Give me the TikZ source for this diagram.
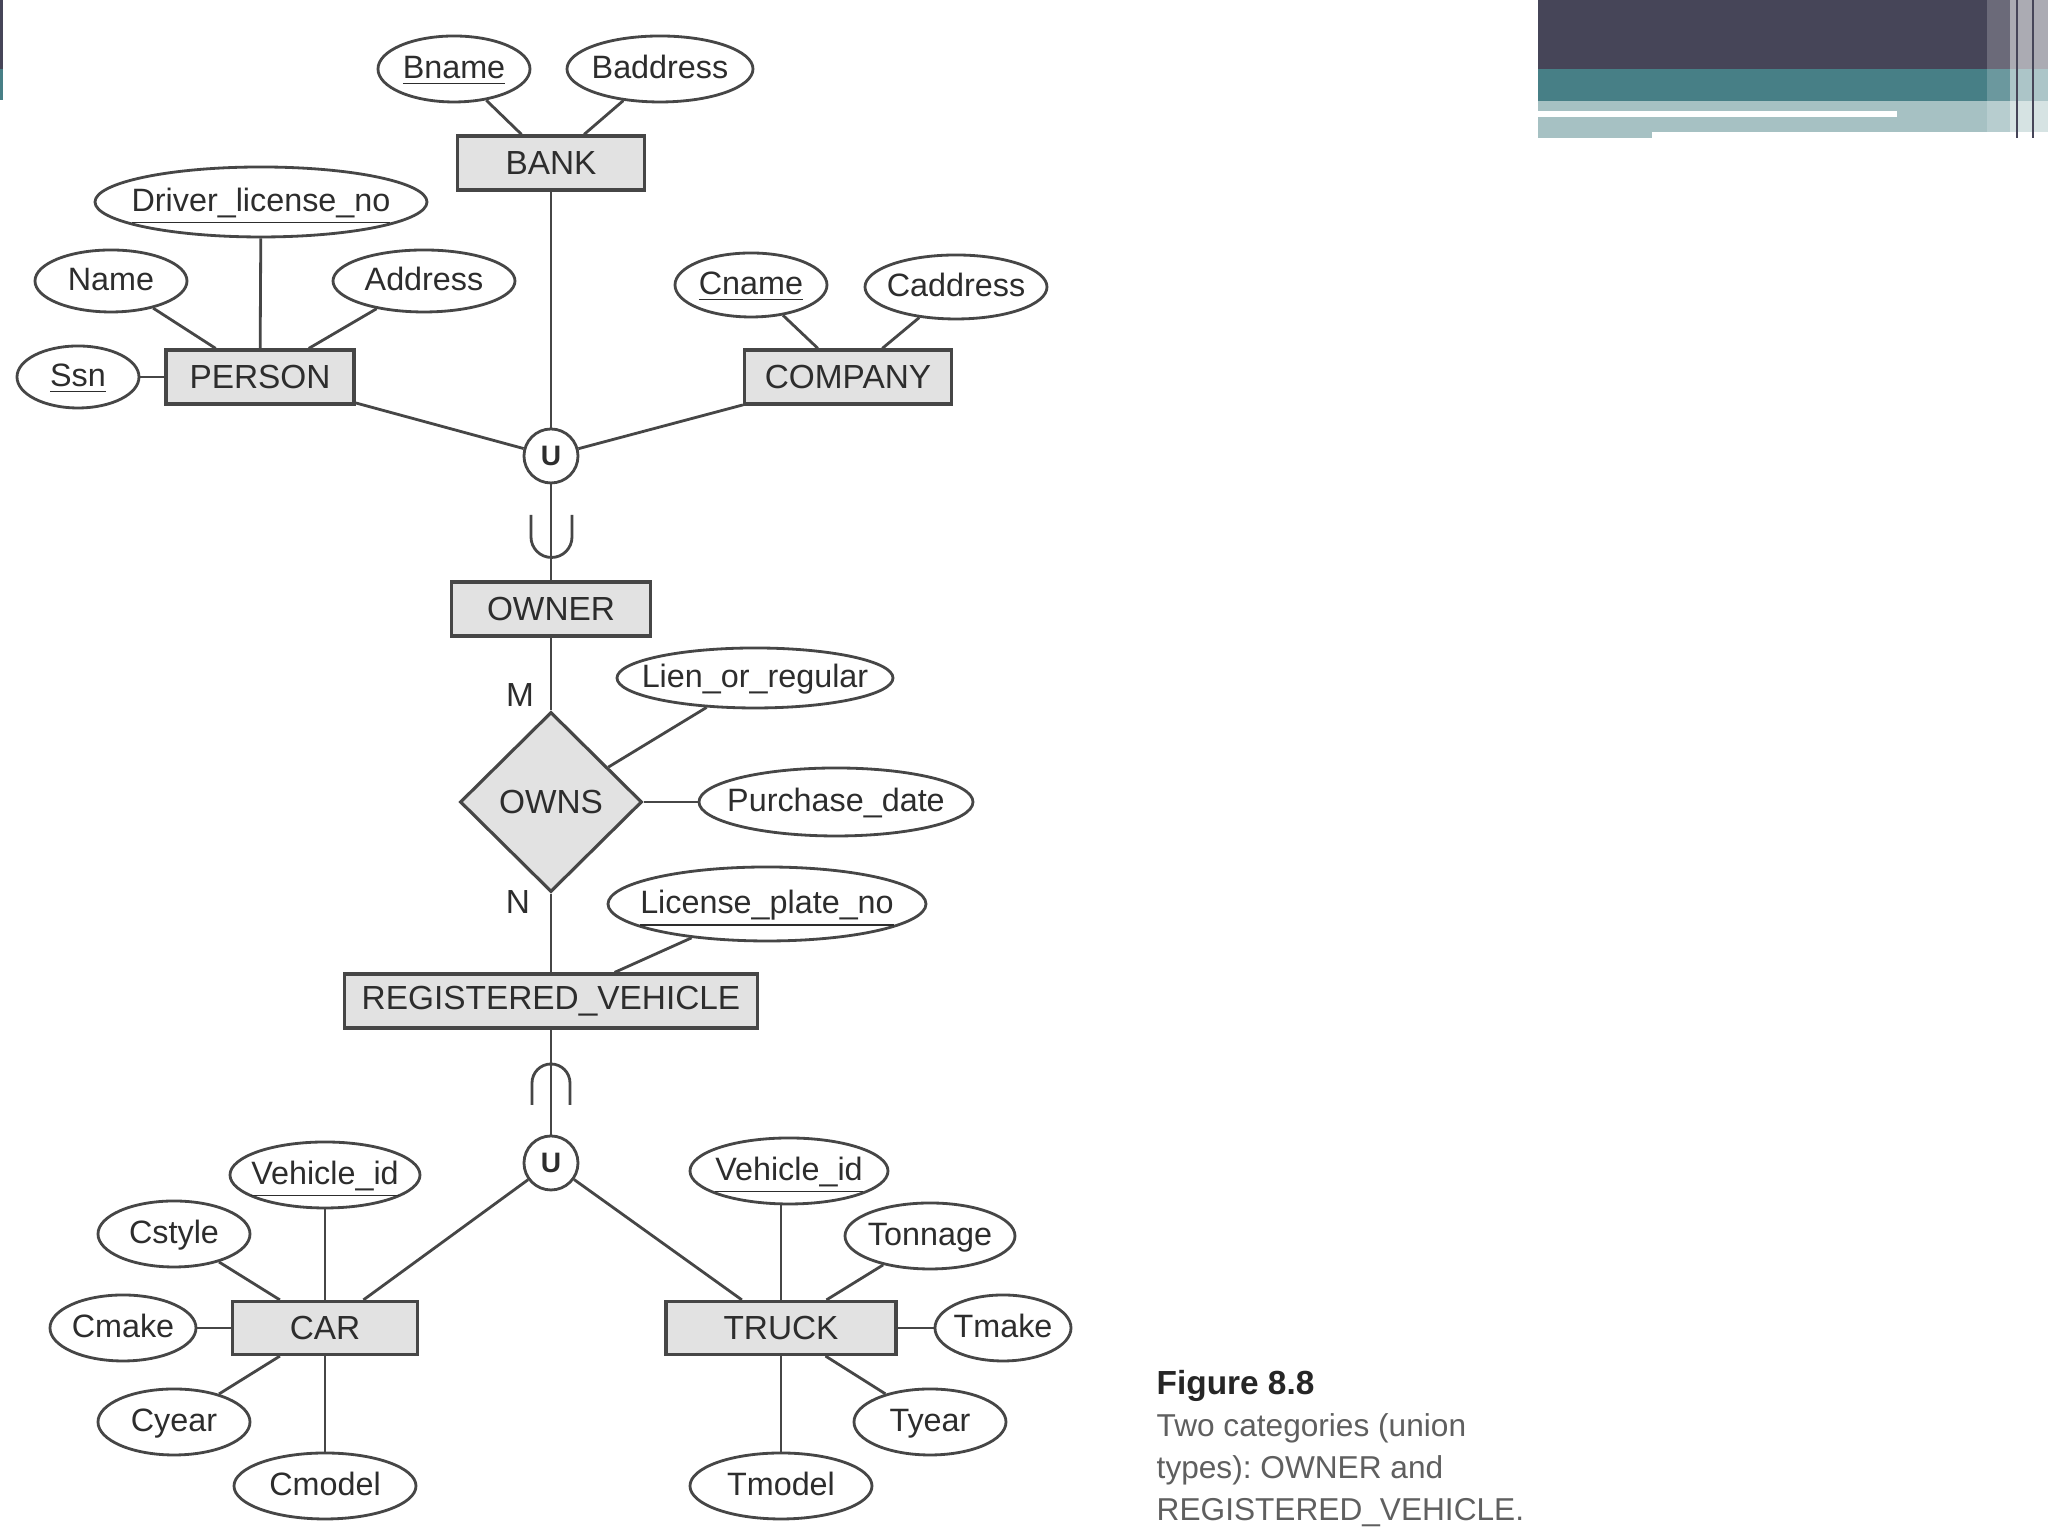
\documentclass[tikz,border=0pt]{standalone}
\usepackage{fontspec}
\setmainfont{Liberation Sans}
\usetikzlibrary{shapes.geometric}
\frenchspacing

\definecolor{linec}{RGB}{70,70,70}
\definecolor{boxgray}{RGB}{226,226,226}
\definecolor{txtc}{RGB}{45,45,45}
\definecolor{capc}{RGB}{95,95,95}
\definecolor{bandDark}{RGB}{70,69,88}
\definecolor{bandTeal}{RGB}{71,127,134}
\definecolor{bandLight}{RGB}{166,193,195}

\tikzset{
  entity/.style={rectangle, draw=linec, fill=boxgray, line width=0.9pt, inner sep=0pt,
    minimum height=0.54cm, text=txtc, font=\fontsize{9.5}{11}\selectfont},
  attr/.style={ellipse, draw=linec, fill=white, line width=0.8pt, inner xsep=-0.6cm,
    inner ysep=0pt, text height=1.5ex, text depth=0.5ex, text=txtc,
    font=\fontsize{9.2}{11}\selectfont},
  rel/.style={diamond, draw=linec, fill=boxgray, line width=0.9pt, inner sep=0pt,
    minimum width=1.82cm, minimum height=1.80cm, text=txtc, font=\fontsize{9.5}{11}\selectfont},
  unionc/.style={circle, draw=linec, fill=white, line width=0.8pt, inner sep=0pt,
    minimum size=0.54cm, text=txtc, font=\bfseries\fontsize{8}{8}\selectfont},
  link/.style={draw=linec, line width=0.8pt},
  card/.style={text=txtc, inner sep=0pt, font=\fontsize{9.5}{11}\selectfont},
  caption/.style={text=capc, anchor=base west, inner sep=0pt, font=\fontsize{9}{12}\selectfont},
}

\begin{document}
\begin{tikzpicture}

% page
\fill[white] (0,0) rectangle (20.48,15.36);
\useasboundingbox (0,0) rectangle (20.48,15.36);

% slide header bands
\fill[bandDark] (15.38,15.36) rectangle (20.48,14.67);
\fill[bandTeal] (15.38,14.67) rectangle (20.48,14.35);
\fill[bandLight] (15.38,14.35) rectangle (20.48,14.04);
\fill[bandLight] (15.38,14.04) rectangle (16.52,13.98);
\fill[white] (15.38,14.25) rectangle (18.97,14.19);
\fill[white, opacity=0.2] (19.87,15.36) rectangle (20.10,14.04);
\fill[white, opacity=0.55] (20.10,15.36) rectangle (20.48,13.98);
\draw[bandDark, line width=0.6pt] (20.17,15.36) -- (20.17,13.98);
\draw[bandDark, line width=0.6pt] (20.33,15.36) -- (20.33,13.98);
\fill[bandDark] (0,15.36) rectangle (0.03,14.67);
\fill[bandTeal] (0,14.67) rectangle (0.03,14.36);

% entities
\node[entity, minimum width=1.87cm] (bank) at (5.51,13.73) {BANK};
\node[entity, minimum width=1.88cm] (person) at (2.60,11.59) {PERSON};
\node[entity, minimum width=2.07cm] (company) at (8.48,11.59) {COMPANY};
\node[entity, minimum width=1.99cm] (owner) at (5.51,9.27) {OWNER};
\node[entity, minimum width=4.13cm] (regveh) at (5.51,5.35) {REGISTERED\_VEHICLE};
\node[entity, minimum width=1.85cm, minimum height=0.53cm] (car) at (3.25,2.08) {CAR};
\node[entity, minimum width=2.30cm, minimum height=0.53cm] (truck) at (7.81,2.08) {TRUCK};

% relationship and union circles
\node[rel] (owns) at (5.51,7.34) {OWNS};
\node[unionc] (utop) at (5.51,10.80) {U};
\node[unionc] (ubot) at (5.51,3.73) {U};

% attributes
\foreach \n/\p/\w/\h/\txt in {
  bname/{4.54,14.67}/1.52/0.66/{\underline{Bname}},
  baddr/{6.60,14.67}/1.86/0.66/{Baddress},
  dlno/{2.61,13.34}/3.32/0.70/{\underline{Driver\_license\_no}},
  name/{1.11,12.55}/1.52/0.62/{Name},
  addr/{4.24,12.55}/1.82/0.62/{Address},
  ssn/{0.78,11.59}/1.22/0.62/{\underline{Ssn}},
  cname/{7.51,12.51}/1.52/0.64/{\underline{Cname}},
  caddr/{9.56,12.49}/1.82/0.64/{Caddress},
  lien/{7.55,8.58}/2.76/0.60/{Lien\_or\_regular},
  pdate/{8.36,7.34}/2.74/0.68/{Purchase\_date},
  lpno/{7.67,6.32}/3.18/0.74/{\underline{License\_plate\_no}},
  vidc/{3.25,3.61}/1.90/0.66/{\underline{Vehicle\_id}},
  cstyle/{1.74,3.02}/1.52/0.66/{Cstyle},
  cmake/{1.23,2.08}/1.46/0.66/{Cmake},
  cyear/{1.74,1.14}/1.52/0.66/{Cyear},
  cmodel/{3.25,0.50}/1.82/0.66/{Cmodel},
  vidt/{7.89,3.65}/1.98/0.66/{\underline{Vehicle\_id}},
  tonn/{9.30,3.00}/1.70/0.66/{Tonnage},
  tmake/{10.03,2.08}/1.36/0.66/{Tmake},
  tyear/{9.30,1.14}/1.52/0.66/{Tyear},
  tmodel/{7.81,0.50}/1.82/0.66/{Tmodel}
}
{
  \node[attr, minimum width=\w cm, minimum height=\h cm] (\n) at (\p) {\txt};
}

% connectors
\foreach \a/\b in {bname/bank, baddr/bank, bank/utop, dlno/person, name/person,
  addr/person, ssn/person, person/utop, cname/company, caddr/company, company/utop,
  utop/owner, owner/owns, lien/owns, pdate/owns, owns/regveh, lpno/regveh,
  regveh/ubot, ubot/car, ubot/truck, vidc/car, cstyle/car, cmake/car, cyear/car,
  cmodel/car, tonn/truck, tmake/truck, tyear/truck, tmodel/truck}
  \draw[link] (\a) -- (\b);
\draw[link] (truck) -- (truck |- vidt.south);

% subset symbols
\draw[link] (5.31,10.21) -- (5.31,9.99) arc[start angle=180, end angle=360, radius=0.205] -- (5.72,10.21);
\draw[link] (5.32,4.31) -- (5.32,4.53) arc[start angle=180, end angle=0, radius=0.19] -- (5.70,4.31);

% cardinalities
\node[card] (mcard) at (5.20,8.41) {M};
\node[card] (ncard) at (5.18,6.34) {N};

% caption
\node[caption, text=black!85, font=\bfseries\fontsize{9.5}{12}\selectfont] (cap0) at (11.56,1.41) {Figure 8.8};
\foreach \y/\txt [count=\i] in {
  0.99/{Two categories (union},
  0.57/{types): OWNER and},
  0.15/{REGISTERED\_VEHICLE.}
}
{
  \node[caption] (cap\i) at (11.56,\y) {\txt};
}

\end{tikzpicture}
\end{document}
